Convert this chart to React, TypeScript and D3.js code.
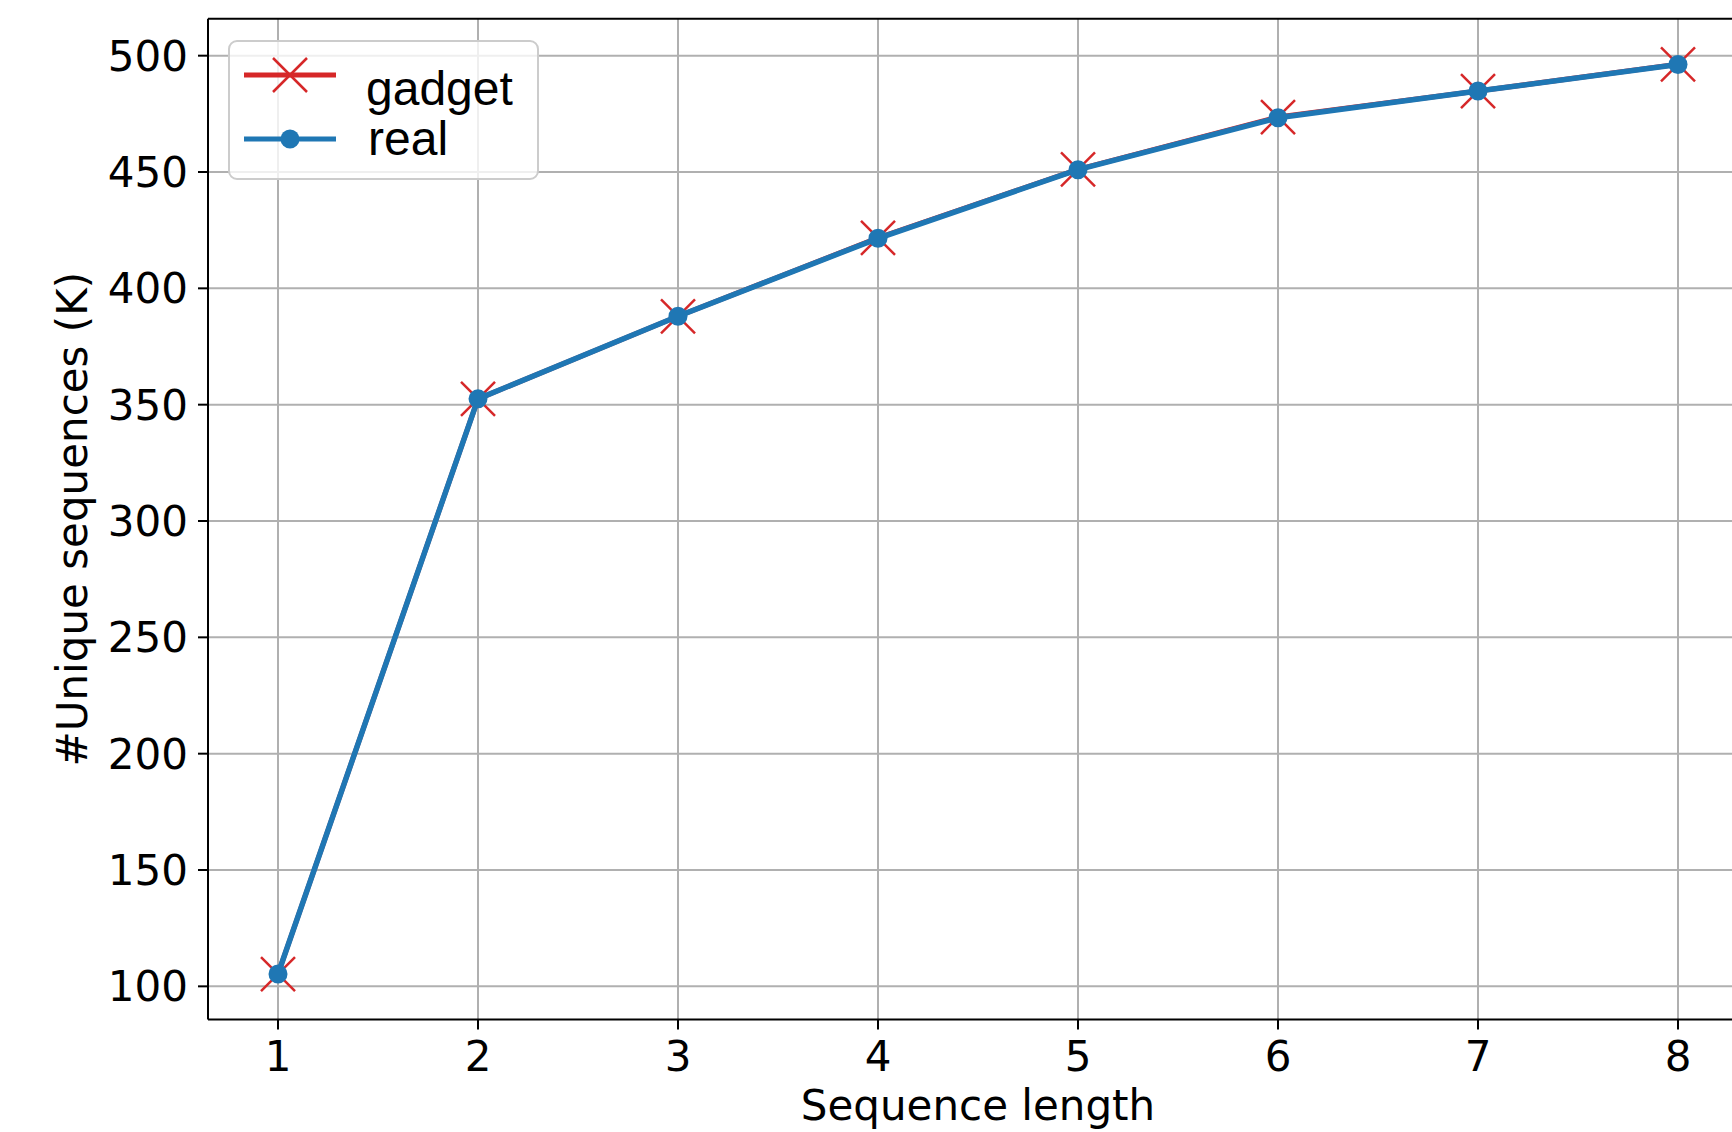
import React from "react";
import * as d3 from "d3";

const seqLengths = [1, 2, 3, 4, 5, 6, 7, 8];
const gadgetValues = [105.3, 352.5, 388.0, 421.7, 451.1, 473.6, 484.8, 496.3];
const realValues = [105.3, 352.5, 388.0, 421.5, 451.0, 473.3, 484.8, 496.2];
const yTicks = [100, 150, 200, 250, 300, 350, 400, 450, 500];
const xTicks = [1, 2, 3, 4, 5, 6, 7, 8];
const seriesNames = ["gadget", "real"];

const W = 1732;
const H = 1132;
const left = 208;
const right = 1748;
const top = 18.8;
const bottom = 1019.5;

const BLUE = "#1f77b4";
const RED = "#d62728";
const GRID = "#b0b0b0";
const FONT = "DejaVu Sans, sans-serif";

export default function App() {
  const allVals = [...gadgetValues, ...realValues];
  const xMin = d3.min(seqLengths)!;
  const xMax = d3.max(seqLengths)!;
  const xPad = (xMax - xMin) * 0.05;
  const yMin = d3.min(allVals)!;
  const yMax = d3.max(allVals)!;
  const yPad = (yMax - yMin) * 0.05;

  const x = d3.scaleLinear().domain([xMin - xPad, xMax + xPad]).range([left, right]);
  const y = d3.scaleLinear().domain([yMin - yPad, yMax + yPad]).range([bottom, top]);

  const line = d3
    .line<number>()
    .x((_, i) => x(seqLengths[i]))
    .y((d) => y(d));

  const xs = 17;

  return (
    <svg
      width={W}
      height={H}
      style={{ position: "absolute", left: 0, top: 0, background: "#fff" }}
    >
      <rect x={0} y={0} width={W} height={H} fill="#fff" />
      {/* grid */}
      {xTicks.map((t) => (
        <line key={"gx" + t} x1={x(t)} x2={x(t)} y1={top} y2={bottom} stroke={GRID} strokeWidth={2} />
      ))}
      {yTicks.map((t) => (
        <line key={"gy" + t} x1={left} x2={right} y1={y(t)} y2={y(t)} stroke={GRID} strokeWidth={2} />
      ))}

      {/* gadget series */}
      <path d={line(gadgetValues) || ""} fill="none" stroke={RED} strokeWidth={5} strokeLinejoin="round" />
      {gadgetValues.map((v, i) => (
        <g key={"gm" + i} transform={`translate(${x(seqLengths[i])},${y(v)})`}>
          <line x1={-xs} y1={-xs} x2={xs} y2={xs} stroke={RED} strokeWidth={2.5} />
          <line x1={-xs} y1={xs} x2={xs} y2={-xs} stroke={RED} strokeWidth={2.5} />
        </g>
      ))}

      {/* real series */}
      <path d={line(realValues) || ""} fill="none" stroke={BLUE} strokeWidth={5.5} strokeLinejoin="round" />
      {realValues.map((v, i) => (
        <circle key={"rm" + i} cx={x(seqLengths[i])} cy={y(v)} r={9.5} fill={BLUE} />
      ))}

      {/* spines */}
      <line x1={left} x2={left} y1={top} y2={bottom} stroke="#000" strokeWidth={2} />
      <line x1={left} x2={right} y1={bottom} y2={bottom} stroke="#000" strokeWidth={2} />
      <line x1={left} x2={right} y1={top} y2={top} stroke="#000" strokeWidth={2} />
      <line x1={right} x2={right} y1={top} y2={bottom} stroke="#000" strokeWidth={2} />

      {/* ticks */}
      {xTicks.map((t) => (
        <g key={"xt" + t}>
          <line x1={x(t)} x2={x(t)} y1={bottom} y2={bottom + 10} stroke="#000" strokeWidth={2} />
          <text x={x(t)} y={1071} textAnchor="middle" fontFamily={FONT} fontSize={42} fill="#000">
            {t}
          </text>
        </g>
      ))}
      {yTicks.map((t) => (
        <g key={"yt" + t}>
          <line x1={left - 10} x2={left} y1={y(t)} y2={y(t)} stroke="#000" strokeWidth={2} />
          <text
            x={left - 20}
            y={y(t)}
            dy="0.36em"
            textAnchor="end"
            fontFamily={FONT}
            fontSize={42}
            fill="#000"
          >
            {t}
          </text>
        </g>
      ))}

      {/* axis labels */}
      <text x={(left + right) / 2} y={1120} textAnchor="middle" fontFamily={FONT} fontSize={42} fill="#000">
        Sequence length
      </text>
      <text
        transform={`translate(87,${(top + bottom) / 2}) rotate(-90)`}
        textAnchor="middle"
        fontFamily={FONT}
        fontSize={42}
        fill="#000"
      >
        #Unique sequences (K)
      </text>

      {/* legend */}
      <rect x={229} y={41} width={309} height={138} rx={8} fill="#fff" fillOpacity={0.8} stroke="#cccccc" strokeWidth={2} />
      <line x1={244} x2={336} y1={75} y2={75} stroke={RED} strokeWidth={5} />
      <g transform="translate(290,75)">
        <line x1={-xs} y1={-xs} x2={xs} y2={xs} stroke={RED} strokeWidth={2.5} />
        <line x1={-xs} y1={xs} x2={xs} y2={-xs} stroke={RED} strokeWidth={2.5} />
      </g>
      <text x={366} y={105} fontFamily="Liberation Sans, Arial, sans-serif" fontSize={48} fill="#000">
        {seriesNames[0]}
      </text>
      <line x1={244} x2={336} y1={139} y2={139} stroke={BLUE} strokeWidth={5} />
      <circle cx={290} cy={139} r={9.5} fill={BLUE} />
      <text x={368} y={155} fontFamily="Liberation Sans, Arial, sans-serif" fontSize={48} fill="#000">
        {seriesNames[1]}
      </text>
    </svg>
  );
}
